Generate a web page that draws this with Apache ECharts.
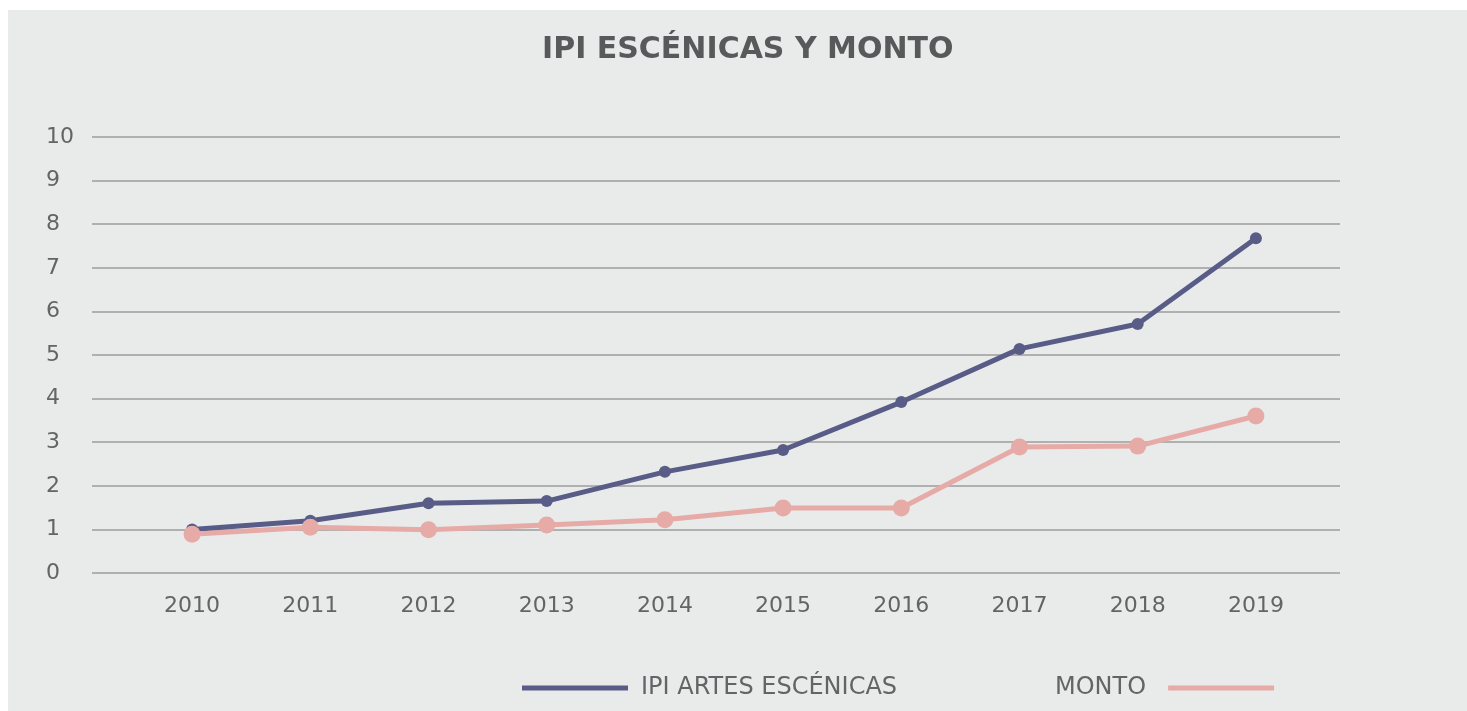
<!DOCTYPE html>
<html>
<head>
<meta charset="utf-8">
<script src="https://cdn.jsdelivr.net/npm/echarts@6/dist/echarts.min.js"></script>
<style>
  html, body { margin: 0; padding: 0; background: #e9ebea; overflow: hidden; }
  #chart { width: 1467px; height: 711px; }
</style>
</head>
<body>
<div id="chart"></div>
<script>
const years = ["2010", "2011", "2012", "2013", "2014", "2015", "2016", "2017", "2018", "2019"];
const ipiArtes = [1.0, 1.2, 1.6, 1.65, 2.32, 2.82, 3.92, 5.14, 5.71, 7.68];
const monto = [0.89, 1.05, 0.99, 1.1, 1.22, 1.49, 1.49, 2.89, 2.91, 3.6];

const colorIpi = "#5a5c88";
const colorMonto = "#e6aba7";
const textColor = "#58595b";
const labelColor = "#636466";
const fuente = "'DejaVu Sans', sans-serif";

const chart = echarts.init(document.getElementById("chart"));

const option = {
  backgroundColor: "#fff",
  animation: false,
  graphic: [
    {
      type: "rect",
      z: -10,
      shape: { x: 8, y: 10, width: 1500, height: 750 },
      style: { fill: "#e9ebea" },
    },
  ],
  title: {
    text: "IPI ESCÉNICAS Y MONTO",
    left: 537,
    top: 30,
    textStyle: {
      color: textColor,
      fontFamily: fuente,
      fontWeight: "bold",
      fontSize: 30,
    },
  },
  legend: [
    {
      data: ["IPI ARTES ESCÉNICAS"],
      left: 517,
      top: 671,
      icon: "rect",
      itemWidth: 106,
      itemHeight: 5,
      textStyle: { color: labelColor, fontSize: 24, fontFamily: fuente, padding: [0, 0, 0, 8] },
    },
    {
      data: ["MONTO"],
      left: 1050,
      top: 671,
      align: "right",
      icon: "rect",
      itemWidth: 106,
      itemHeight: 5,
      textStyle: { color: labelColor, fontSize: 24, fontFamily: fuente, padding: [0, 17, 0, 0] },
    },
  ],
  grid: [
    { left: 92, right: 127, top: 137, bottom: 138 },
    { left: 133, right: 152, top: 137, bottom: 138 },
  ],
  xAxis: [
    { gridIndex: 0, type: "category", data: years, show: false },
    {
      gridIndex: 1,
      type: "category",
      data: years,
      boundaryGap: true,
      axisLine: { show: false },
      axisTick: { show: false },
      axisLabel: { color: labelColor, fontSize: 22, fontFamily: fuente, margin: 22 },
    },
  ],
  yAxis: [
    {
      gridIndex: 0,
      type: "value",
      min: 0,
      max: 10,
      interval: 1,
      axisLine: { show: false },
      axisTick: { show: false },
      axisLabel: {
        color: labelColor,
        fontSize: 22,
        fontFamily: fuente,
        align: "left",
        margin: 46,
      },
      splitLine: { lineStyle: { color: "#9c9d9d", width: 1.5 } },
    },
    { gridIndex: 1, type: "value", min: 0, max: 10, interval: 1, show: false, splitLine: { show: false } },
  ],
  series: [
    {
      name: "IPI ARTES ESCÉNICAS",
      type: "line",
      xAxisIndex: 1,
      yAxisIndex: 1,
      data: ipiArtes,
      z: 3,
      symbol: "circle",
      symbolSize: 12,
      lineStyle: { color: colorIpi, width: 5 },
      itemStyle: { color: colorIpi },
    },
    {
      name: "MONTO",
      type: "line",
      xAxisIndex: 1,
      yAxisIndex: 1,
      data: monto,
      z: 4,
      symbol: "circle",
      symbolSize: 17,
      lineStyle: { color: colorMonto, width: 5 },
      itemStyle: { color: colorMonto },
    },
  ],
};

chart.setOption(option);
</script>
</body>
</html>
